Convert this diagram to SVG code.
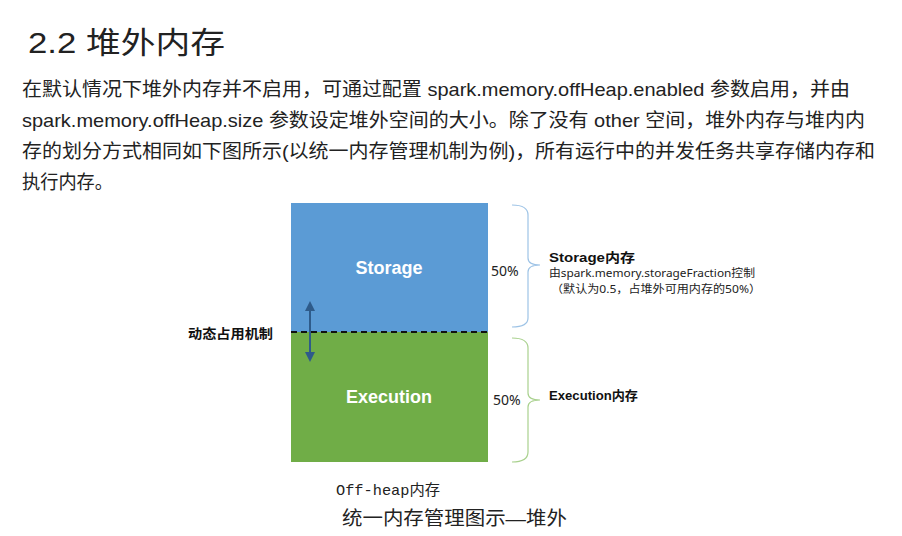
<svg xmlns="http://www.w3.org/2000/svg" width="902" height="536" viewBox="0 0 902 536">
<style>
.t{font-family:"Liberation Sans","Noto Sans CJK SC",sans-serif;fill:#222}
.b{font-family:"Liberation Sans","Noto Sans CJK SC",sans-serif;font-weight:bold}
.s{font-family:"Noto Sans","Noto Sans CJK SC",sans-serif;fill:#222}
</style>
<defs>
<marker id="ah" viewBox="0 0 10 10" refX="5" refY="5" markerWidth="5" markerHeight="5" orient="auto-start-reverse"><path d="M0,0L10,5L0,10z" fill="#2e5b8a"/></marker>
</defs>
<rect width="902" height="536" fill="#fff"/>
<text x="28" y="53" class="t" font-size="30" textLength="197" lengthAdjust="spacingAndGlyphs">2.2 堆外内存</text>
<g class="t" font-size="19">
<text x="22" y="96" textLength="828" lengthAdjust="spacingAndGlyphs">在默认情况下堆外内存并不启用，可通过配置 spark.memory.offHeap.enabled 参数启用，并由</text>
<text x="22" y="127" textLength="843" lengthAdjust="spacingAndGlyphs">spark.memory.offHeap.size 参数设定堆外空间的大小。除了没有 other 空间，堆外内存与堆内内</text>
<text x="22" y="158" textLength="853" lengthAdjust="spacingAndGlyphs">存的划分方式相同如下图所示(以统一内存管理机制为例)，所有运行中的并发任务共享存储内存和</text>
<text x="22" y="189" textLength="91" lengthAdjust="spacingAndGlyphs">执行内存。</text>
</g>
<g id="storage"><rect x="291" y="203" width="197" height="129" fill="#5b9bd5"/>
<text x="389" y="274" class="b" font-size="18" fill="#fff" text-anchor="middle">Storage</text></g>
<g id="execution"><rect x="291" y="332" width="197" height="130" fill="#70ad47"/>
<text x="389" y="403" class="b" font-size="18" fill="#fff" text-anchor="middle">Execution</text></g>
<g id="connectors">
<line x1="291" y1="332" x2="488" y2="332" stroke="#111" stroke-width="2" stroke-dasharray="6,4"/>
<line x1="310" y1="306" x2="310" y2="357" stroke="#2e5b8a" stroke-width="2" marker-start="url(#ah)" marker-end="url(#ah)"/>
<path d="M512,205 Q528,205 528,215 L528,258 Q528,265 540,265 Q528,265 528,272 L528,318 Q528,327 512,327" fill="none" stroke="#9dc3e6" stroke-width="1.2"/>
<path d="M512,338 Q528,338 528,348 L528,393 Q528,400 540,400 Q528,400 528,407 L528,452 Q528,462 512,462" fill="none" stroke="#a9d18e" stroke-width="1.2"/>
</g>
<text x="188" y="338" class="b" font-size="13" fill="#111" textLength="85" lengthAdjust="spacingAndGlyphs">动态占用机制</text>
<text x="491" y="276" class="s" font-size="14">50%</text>
<text x="493" y="405" class="s" font-size="14">50%</text>
<g id="storage-label">
<text x="549" y="262" class="b" font-size="13" fill="#111" textLength="86" lengthAdjust="spacingAndGlyphs">Storage内存</text>
<text x="549" y="277" class="s" font-size="11" textLength="206" lengthAdjust="spacingAndGlyphs">由spark.memory.storageFraction控制</text>
<text x="551" y="293" class="s" font-size="11" textLength="210" lengthAdjust="spacingAndGlyphs">（默认为0.5，占堆外可用内存的50%）</text>
</g>
<text x="549" y="400" class="b" font-size="13" fill="#111" textLength="89" lengthAdjust="spacingAndGlyphs">Execution内存</text>
<text x="336" y="495" font-family="Liberation Mono,Noto Sans CJK SC,monospace" font-size="15" fill="#222" textLength="104" lengthAdjust="spacingAndGlyphs">Off-heap内存</text>
<text x="342" y="525" class="t" font-size="19" textLength="225" lengthAdjust="spacingAndGlyphs">统一内存管理图示—堆外</text>
</svg>
